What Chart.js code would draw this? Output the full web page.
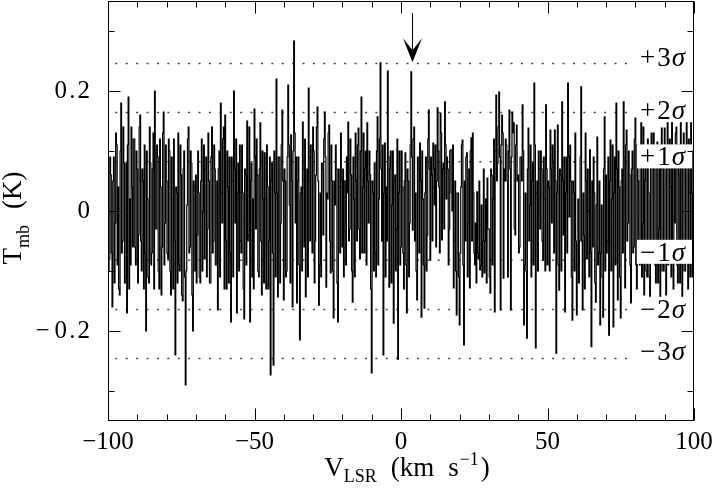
<!DOCTYPE html>
<html>
<head>
<meta charset="utf-8">
<script src="https://cdn.jsdelivr.net/npm/chart.js@4"></script>
<style>
  body { margin: 0; background: #fff; }
  #wrap { width: 721px; height: 496px; }
</style>
</head>
<body>
<div id="wrap"><canvas id="myChart"></canvas></div>
<script>
// spectrum: channel velocities start at vStart, spaced dv (km/s)
const vStart = -100;
const dv = 0.25;
// T_mb (K), one value per channel, 10 km/s per row
const tmb = [
  0.03,-0.10, -0.08,0.09, 0.06,-0.07, -0.16,0.05, 0.09,-0.12, -0.02,0.13, 0.11,-0.09, 0.04,-0.13, -0.14,0.10, 0.18,-0.07, -0.05,0.14, 0.08,-0.12, -0.11,0.08, -0.17,0.11, 0.19,-0.13, 0.02,-0.09, 0.14,0.04, -0.06,0.12, 0.12,-0.06, -0.09,0.10,
  0.07,-0.12, -0.04,0.14, 0.16,-0.05, -0.1,0.07, 0.05,-0.13, 0.11,-0.07, -0.2,0.10, 0.02,-0.11, -0.12,0.14, 0.08,-0.09, -0.07,0.07, 0.13,-0.13, 0.2,-0.03, -0.03,0.11, 0.09,-0.10, -0.13,0.12, 0.04,-0.14, -0.06,0.13, 0.165,-0.09, -0.02,0.11,
  0.05,-0.07, -0.08,0.12, 0.1,-0.10, -0.14,0.09, 0.02,-0.13, 0.12,-0.05, -0.24,0.04, 0.03,-0.12, 0.13,-0.09, -0.1,0.11, 0.06,-0.14, -0.15,0.07, 0.1,-0.11, -0.29,-0.10, 0.01,0.12, 0.14,-0.07, -0.06,0.10, 0.08,-0.14, -0.2,0.05, 0.04,-0.10,
  0.06,-0.12, -0.04,0.10, 0.03,-0.11, -0.12,0.05, 0.12,-0.10, 0.0,0.11, -0.08,0.07, 0.09,-0.11, -0.03,0.13, 0.05,-0.12, -0.12,0.09, 0.14,-0.07, -0.05,0.11, 0.07,-0.09, -0.09,0.05, -0.165,0.07, 0.1,-0.11, 0.18,0.03, -0.02,0.12, 0.14,-0.13,
  0.16,-0.05, -0.13,0.10, 0.04,-0.12, 0.09,-0.07, -0.185,0.09, 0.05,-0.11, 0.2,0.07, -0.02,0.12, -0.17,0.03, 0.08,-0.10, 0.11,-0.05, -0.07,0.11, 0.03,-0.13, -0.18,0.07, 0.06,-0.09, 0.15,-0.05, -0.04,0.14, -0.185,0.05, 0.08,-0.11, 0.02,-0.13,
  0.17,0.09, -0.03,0.12, 0.06,-0.10, -0.11,0.07, 0.147,-0.05, -0.14,0.10, 0.02,-0.12, 0.097,0.02, -0.13,0.11, 0.04,-0.13, -0.05,0.09, -0.273,0.05, 0.08,-0.07, -0.257,0.10, 0.03,-0.11, 0.22,0.03, -0.143,0.09, 0.09,-0.12, -0.02,0.11, 0.168,0.05,
  -0.148,0.07, 0.05,-0.11, -0.1,0.09, 0.21,0.11, 0.01,-0.12, 0.127,0.05, -0.16,0.10, 0.283,0.13, -0.02,0.09, -0.153,0.05, 0.09,-0.09, -0.215,0.03, 0.04,-0.10, 0.148,0.07, -0.06,0.12, -0.143,0.05, 0.07,-0.11, 0.205,0.09, -0.05,0.11, 0.11,-0.07,
  0.14,0.10, -0.12,-0.05, 0.06,0.14, 0.173,0.05, -0.157,-0.09, 0.03,-0.11, 0.08,0.07, -0.04,0.12, 0.165,0.09, -0.127,0.03, 0.02,0.13, 0.143,-0.05, -0.103,0.11, 0.05,-0.10, -0.178,0.05, 0.01,0.11, 0.07,-0.12, -0.185,0.07, 0.04,-0.07, 0.13,0.05,
  -0.06,0.07, -0.11,0.05, 0.05,-0.09, 0.09,0.03, 0.148,-0.05, -0.03,0.12, 0.06,-0.10, -0.152,0.09, 0.02,-0.11, 0.13,0.05, -0.05,0.11, 0.138,-0.03, -0.08,0.10, 0.19,-0.07, 0.04,0.13, -0.07,0.07, 0.1,-0.09, 0.147,0.05, -0.02,0.10, 0.06,-0.13,
  -0.27,0.05, 0.03,-0.10, 0.08,-0.07, -0.11,0.10, 0.157,-0.09, 0.02,0.12, 0.247,0.07, -0.05,0.11, -0.24,0.03, 0.113,-0.11, 0.04,-0.05, 0.233,0.09, -0.127,0.07, 0.1,-0.12, 0.01,0.10, -0.187,0.05, 0.06,-0.10, -0.03,0.12, -0.247,0.03, 0.1,-0.09,
  -0.06,0.10, 0.04,-0.07, -0.13,0.05, 0.097,-0.09, -0.17,0.07, 0.05,-0.11, -0.02,0.11, 0.232,0.09, -0.032,0.12, 0.14,-0.05, 0.03,-0.10, -0.148,0.09, 0.07,-0.07, 0.113,0.05, -0.177,0.10, 0.02,-0.09, -0.162,0.03, 0.09,-0.10, -0.04,0.12, 0.168,0.07,
  -0.082,0.09, 0.06,-0.05, 0.113,0.07, 0.01,0.11, -0.06,0.05, 0.172,0.10, 0.04,-0.07, 0.163,0.13, -0.048,0.07, 0.08,-0.03, 0.182,0.11, 0.02,0.09, 0.07,-0.09, -0.03,0.10, 0.102,0.03, 0.0,0.11, -0.128,-0.05, 0.05,-0.10, -0.173,0.03, 0.03,-0.11,
  -0.19,-0.07, 0.04,0.11, 0.118,-0.09, -0.223,0.05, -0.05,0.09, 0.097,-0.11, -0.02,0.07, -0.128,0.10, 0.122,-0.05, 0.13,0.03, -0.07,-0.09, -0.02,-0.12, 0.032,-0.07, -0.08,0.05, -0.098,-0.09, 0.01,-0.11, -0.05,0.07, -0.103,-0.05, 0.02,-0.12, 0.055,-0.03,
  -0.03,-0.11, -0.137,0.07, 0.06,-0.09, 0.02,0.12, -0.168,0.10, 0.193,0.05, 0.08,0.14, 0.198,0.09, -0.165,0.11, 0.16,0.13, -0.112,0.07, 0.05,0.12, 0.11,0.05, -0.11,0.10, 0.168,0.07, -0.165,0.09, 0.165,0.13, 0.147,-0.03, -0.04,0.11, 0.143,0.05,
  0.06,-0.07, -0.06,0.09, 0.09,0.05, 0.177,0.10, -0.19,-0.09, 0.03,-0.10, -0.212,0.07, 0.138,-0.05, 0.01,0.11, -0.11,0.05, 0.08,-0.09, 0.213,0.11, -0.228,0.03, 0.05,-0.10, 0.1,0.07, -0.03,0.10, 0.07,-0.05, -0.082,0.09, 0.02,-0.10, 0.177,0.07,
  -0.09,0.05, 0.04,-0.10, 0.135,0.07, -0.02,0.11, 0.08,-0.07, 0.135,0.05, -0.237,0.03, 0.143,-0.09, -0.132,0.07, 0.06,-0.10, 0.182,0.05, -0.04,0.09, -0.168,0.03, 0.09,-0.07, 0.213,0.09, -0.01,0.11, 0.05,-0.11, -0.182,0.05, 0.03,-0.10, 0.13,-0.05,
  -0.173,-0.09, 0.02,-0.12, -0.05,0.09, 0.207,-0.05, -0.165,0.03, -0.04,-0.13, 0.13,0.05, -0.08,0.07, 0.0,-0.11, 0.102,-0.07, -0.226,0.05, -0.06,0.09, 0.03,-0.12, -0.152,0.01, 0.123,-0.09, -0.07,0.05, -0.19,-0.07, 0.01,-0.11, -0.177,0.07, 0.157,-0.10,
  0.06,-0.07, -0.05,0.09, -0.207,0.05, 0.118,-0.10, 0.02,0.11, -0.193,0.03, 0.09,-0.09, 0.18,0.07, -0.148,0.10, 0.04,-0.11, -0.178,0.05, 0.07,-0.07, 0.182,0.09, -0.128,0.11, 0.135,-0.05, -0.02,0.10, 0.06,-0.09, -0.153,0.07, 0.1,-0.07, -0.06,0.12,
  0.155,-0.09, -0.13,0.11, 0.05,-0.07, -0.09,0.09, 0.155,-0.11, -0.02,0.14, -0.14,0.05, 0.08,-0.10, -0.11,0.12, 0.03,-0.11, -0.16,0.09, 0.13,-0.05, -0.05,0.13, 0.07,-0.09, -0.12,0.10, 0.115,-0.12, -0.03,0.11, -0.17,0.07, 0.138,-0.10, -0.1,0.09,
  0.138,-0.10, -0.14,0.07, 0.152,-0.09, -0.06,0.12, 0.04,-0.11, 0.152,-0.07, -0.13,0.10, -0.02,0.13, 0.14,-0.09, -0.12,0.11, 0.06,-0.12, 0.15,-0.05, -0.15,0.09, 0.13,-0.10, -0.1,0.11, 0.152,-0.07, -0.13,0.12, 0.03,-0.11, 0.152,0.03, -0.11,0.10,
  0.02
];

// rms noise and the levels marked with dotted lines
const sigma = 0.082;
const sigmaLevels = [3, 2, 1, -1, -2, -3];
const sigmaSigns = ['+3', '+2', '+1', '−1', '−2', '−3'];
const sigmaLabelY = [0.256, 0.168, 0.091, -0.068, -0.163, -0.234];
const dotFrom = -97.5, dotTo = 78.5;

// arrow marking the line position
const arrowV = 3.6, arrowTip = 0.248, arrowTail = 0.33;

const xTicks = [-100, -50, 0, 50, 100];
const yTicks = [-0.2, 0, 0.2];
const xMinor = 10, yMinor = 0.1;

const FONT = '"Liberation Serif", "DejaVu Serif", serif';
const fs = 25, fsTitle = 27, fsSub = 18;
const THIN = '\u2009', HAIR = '\u200A';

const minus = s => s.replace('-', '−');

// draw pieces [text, size, shift, italic, gapAfter] from x0 on baseline y0
function drawParts(ctx, parts, x0, y0, draw = true) {
  let x = x0;
  parts.forEach(([t, size, dy, it, gap]) => {
    ctx.font = `${it ? 'italic ' : ''}${size}px ${FONT}`;
    if (draw) ctx.fillText(t, x, y0 + dy);
    x += ctx.measureText(t).width + (gap || 0);
  });
  return x - x0;
}

const overlay = {
  id: 'overlay',
  afterDatasetsDraw(chart) {
    const { ctx, scales: { x, y } } = chart;
    ctx.save();
    ctx.textBaseline = 'alphabetic';
    ctx.textAlign = 'left';
    // sigma labels on white boxes
    sigmaSigns.forEach((lab, i) => {
      const cy = y.getPixelForValue(sigmaLabelY[i]);
      ctx.fillStyle = '#fff';
      ctx.fillRect(637, cy - 12, 55, 24);
      ctx.fillStyle = '#000';
      const parts = [[lab[0], fsTitle, 0, false, 2], [lab[1], fsTitle, 0, false, 1], ['σ', fsTitle, 0, true]];
      drawParts(ctx, parts, 640, cy + 9);
    });
    // arrow
    const ax = Math.round(x.getPixelForValue(arrowV)) + 0.5;
    const tipY = y.getPixelForValue(arrowTip);
    const tailY = y.getPixelForValue(arrowTail);
    ctx.strokeStyle = '#000';
    ctx.lineWidth = 1;
    ctx.beginPath();
    ctx.moveTo(ax, tailY);
    ctx.lineTo(ax, tipY - 10);
    ctx.stroke();
    ctx.fillStyle = '#000';
    ctx.beginPath();
    ctx.moveTo(ax, tipY);
    ctx.lineTo(ax - 9.5, tipY - 24);
    ctx.lineTo(ax, tipY - 12);
    ctx.lineTo(ax + 9.5, tipY - 24);
    ctx.closePath();
    ctx.fill();
    ctx.restore();
  },
  afterDraw(chart) {
    const { ctx, chartArea: a, scales: { x, y } } = chart;
    ctx.save();
    ctx.strokeStyle = '#000';
    ctx.lineWidth = 1;
    const L = Math.round(a.left) + 0.5, R = Math.round(a.right) - 0.5;
    const T = Math.round(a.top) + 0.5, B = Math.round(a.bottom) - 0.5;
    ctx.strokeRect(L, T, R - L, B - T);
    ctx.beginPath();
    for (let v = x.min; v <= x.max + 1e-9; v += xMinor) {
      const px = Math.round(x.getPixelForValue(v)) + 0.5;
      const len = xTicks.includes(Math.round(v)) ? 12 : 6;
      ctx.moveTo(px, B); ctx.lineTo(px, B - len);
      ctx.moveTo(px, T); ctx.lineTo(px, T + len);
    }
    for (let v = -0.3; v <= 0.3 + 1e-9; v += yMinor) {
      const py = Math.round(y.getPixelForValue(v)) + 0.5;
      const major = yTicks.some(t => Math.abs(t - v) < 1e-6);
      const len = major ? 12 : 6;
      ctx.moveTo(L, py); ctx.lineTo(L + len, py);
      ctx.moveTo(R, py); ctx.lineTo(R - len, py);
    }
    ctx.stroke();

    // axis titles with sub/superscripts
    ctx.fillStyle = '#000';
    ctx.textBaseline = 'alphabetic';
    ctx.textAlign = 'left';
    const xt = [['V', fsTitle, 0, false, 0], ['LSR', fsSub, 6, false, 14], ['(km', fsTitle, 0, false, 14],
                ['s', fsTitle, 0, false, 1], ['−1', fsSub, -11, false, 2], [')', fsTitle, 0, false, 0]];
    const xw = drawParts(ctx, xt, 0, 0, false);
    drawParts(ctx, xt, 407 - xw / 2, 476);

    const yt = [['T', fsTitle, 0, false, 0], ['mb', fsSub, 8, false, 16], ['(K)', fsTitle, 0, false, 0]];
    const yw = drawParts(ctx, yt, 0, 0, false);
    ctx.translate(21, 218);
    ctx.rotate(-Math.PI / 2);
    drawParts(ctx, yt, -yw / 2, 0);
    ctx.restore();
  }
};

const specPoints = tmb.map((t, i) => ({ x: vStart + i * dv, y: t }));

const dotted = sigmaLevels.map(k => ({
  data: [{ x: dotFrom, y: k * sigma }, { x: dotTo, y: k * sigma }],
  borderColor: '#444',
  borderWidth: 1.5,
  borderDash: [2, 8.4],
  pointRadius: 0,
  order: 2
}));

let ctx = document.getElementById('myChart').getContext('2d');
let chart = new Chart(ctx, {
  type: 'line',
  data: {
    datasets: [{
      data: specPoints,
      borderColor: '#000',
      borderWidth: 1.2,
      stepped: 'middle',
      pointRadius: 0,
      order: 1
    }].concat(dotted)
  },
  options: {
    responsive: true,
    maintainAspectRatio: false,
    devicePixelRatio: 1,
    animation: false,
    layout: { padding: { left: 0, right: 27, top: 1, bottom: 0 } },
    plugins: { legend: { display: false }, tooltip: { enabled: false } },
    scales: {
      x: {
        type: 'linear',
        min: -100,
        max: 100,
        afterBuildTicks: s => { s.ticks = xTicks.map(v => ({ value: v })); },
        afterFit: s => { s.height = 75; s.paddingLeft = 0; s.paddingRight = 0; },
        grid: { display: false, drawTicks: false },
        border: { display: false },
        ticks: {
          autoSkip: false,
          maxRotation: 0,
          padding: 6,
          color: '#000',
          font: { family: FONT, size: fs },
          callback: v => minus(String(v))
        }
      },
      y: {
        type: 'linear',
        min: -0.35,
        max: 0.35,
        afterBuildTicks: s => { s.ticks = yTicks.map(v => ({ value: v })); },
        afterFit: s => { s.width = 108; s.paddingTop = 0; s.paddingBottom = 0; },
        grid: { display: false, drawTicks: false },
        border: { display: false },
        ticks: {
          padding: 18,
          color: '#000',
          font: { family: FONT, size: fs },
          callback: v => v === 0 ? '0' : (v < 0 ? '−' + THIN : '') + Math.abs(v).toFixed(1).split('').join(HAIR)
        }
      }
    }
  },
  plugins: [overlay]
});
</script>
</body>
</html>
